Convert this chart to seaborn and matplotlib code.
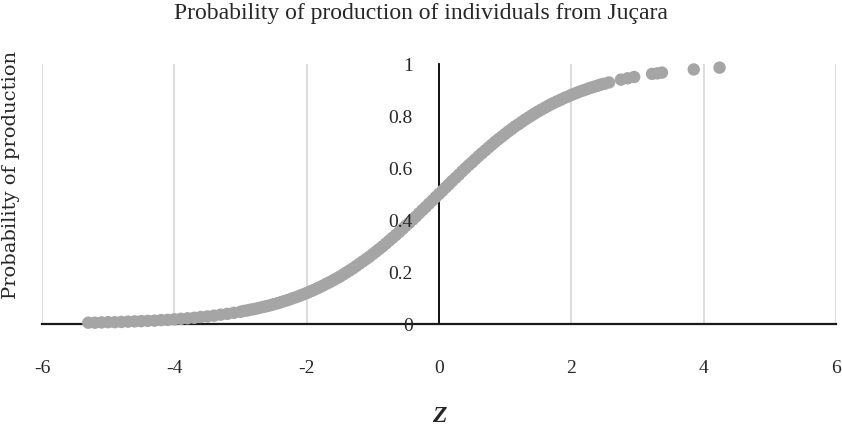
import pandas as pd
import matplotlib
matplotlib.use("Agg")
import matplotlib.pyplot as plt
import seaborn as sns

# Z scores: flat lower tail, dense middle, sparse upper tail
z_values = [
    -5.3, -5.2, -5.1, -5.0, -4.9, -4.8, -4.7, -4.6, -4.5, -4.4,
    -4.3, -4.2, -4.1, -4.0, -3.9, -3.8, -3.7, -3.6, -3.5, -3.4,
    -3.3, -3.2, -3.1,
    -3.0, -2.95, -2.9, -2.85, -2.8, -2.75, -2.7, -2.65, -2.6, -2.55,
    -2.5, -2.45, -2.4, -2.35, -2.3, -2.25, -2.2, -2.15, -2.1, -2.05,
    -2.0, -1.95, -1.9, -1.85, -1.8, -1.75, -1.7, -1.65, -1.6, -1.55,
    -1.5, -1.45, -1.4, -1.35, -1.3, -1.25, -1.2, -1.15, -1.1, -1.05,
    -1.0, -0.95, -0.9, -0.85, -0.8, -0.75, -0.7, -0.65, -0.6, -0.55,
    -0.5, -0.45, -0.4, -0.35, -0.3, -0.25, -0.2, -0.15, -0.1, -0.05,
    0.0, 0.05, 0.1, 0.15, 0.2, 0.25, 0.3, 0.35, 0.4, 0.45,
    0.5, 0.55, 0.6, 0.65, 0.7, 0.75, 0.8, 0.85, 0.9, 0.95,
    1.0, 1.05, 1.1, 1.15, 1.2, 1.25, 1.3, 1.35, 1.4, 1.45,
    1.5, 1.55, 1.6, 1.65, 1.7, 1.75, 1.8, 1.85, 1.9, 1.95,
    2.0, 2.05, 2.1, 2.15, 2.2, 2.25, 2.3, 2.35, 2.4, 2.45,
    2.5, 2.57, 2.75, 2.85, 2.95, 3.22, 3.30, 3.37, 3.85, 4.24,
]

# probability of production for each point
prob_values = [
    0.005, 0.005, 0.006, 0.007, 0.007, 0.008, 0.009, 0.010, 0.011, 0.012,
    0.013, 0.015, 0.016, 0.018, 0.020, 0.022, 0.024, 0.027, 0.029, 0.032,
    0.036, 0.039, 0.043,
    0.047, 0.050, 0.052, 0.055, 0.057, 0.060, 0.063, 0.066, 0.069, 0.072,
    0.076, 0.079, 0.083, 0.087, 0.091, 0.095, 0.100, 0.104, 0.109, 0.114,
    0.119, 0.125, 0.130, 0.136, 0.142, 0.148, 0.155, 0.161, 0.168, 0.175,
    0.182, 0.190, 0.198, 0.206, 0.214, 0.223, 0.232, 0.241, 0.250, 0.259,
    0.269, 0.279, 0.289, 0.299, 0.310, 0.321, 0.332, 0.343, 0.354, 0.366,
    0.378, 0.389, 0.401, 0.413, 0.426, 0.438, 0.450, 0.463, 0.475, 0.488,
    0.500, 0.512, 0.525, 0.537, 0.550, 0.562, 0.574, 0.587, 0.599, 0.611,
    0.622, 0.634, 0.646, 0.657, 0.668, 0.679, 0.690, 0.701, 0.711, 0.721,
    0.731, 0.741, 0.750, 0.760, 0.768, 0.777, 0.786, 0.794, 0.802, 0.810,
    0.818, 0.825, 0.832, 0.839, 0.846, 0.852, 0.858, 0.864, 0.870, 0.875,
    0.881, 0.886, 0.891, 0.896, 0.900, 0.905, 0.909, 0.913, 0.917, 0.921,
    0.924, 0.929, 0.940, 0.945, 0.950, 0.962, 0.964, 0.967, 0.979, 0.986,
]

x_ticks = [-6, -4, -2, 0, 2, 4, 6]
y_ticks = [0, 0.2, 0.4, 0.6, 0.8, 1]
y_tick_labels = ["0", "0.2", "0.4", "0.6", "0.8", "1"]

df = pd.DataFrame({"z": z_values, "prob": prob_values})

sns.set_style("white")
plt.rcParams["font.family"] = ["Liberation Serif", "DejaVu Serif"]
plt.rcParams["axes.unicode_minus"] = False

fig = plt.figure(figsize=(8.42, 4.27), dpi=100)
ax = fig.add_axes([42 / 842, 102 / 427, 794 / 842, 260 / 427])

sns.scatterplot(data=df, x="z", y="prob", ax=ax, color="#a5a5a5",
                s=80, edgecolor="none", linewidth=0, clip_on=False, zorder=3)

ax.set_xlim(-6, 6)
ax.set_ylim(0, 1)
ax.set_xticks(x_ticks)
ax.set_yticks(y_ticks)
ax.set_yticklabels(y_tick_labels)

# vertical grid only
ax.grid(axis="x", color="#d9d9d9", linewidth=1.3)
ax.grid(axis="y", visible=False)

# y axis crosses at z = 0, drawn under the points
ax.spines["left"].set_position(("data", 0))
ax.spines["left"].set_color("black")
ax.spines["left"].set_linewidth(1.3)
ax.spines["left"].set_zorder(2)
ax.spines["bottom"].set_color("#1a1a1a")
ax.spines["bottom"].set_linewidth(1.6)
ax.spines["bottom"].set_zorder(2)
ax.spines["top"].set_visible(False)
ax.spines["right"].set_visible(False)
# y tick labels sit on top of the curve
ax.yaxis.set_zorder(4)

ax.tick_params(axis="x", length=0, pad=25, labelsize=14)
ax.tick_params(axis="y", length=0, pad=19, labelsize=14)

ax.set_xlabel("Z", fontsize=17, fontstyle="italic", fontweight="bold")
ax.xaxis.set_label_coords(0.5, -0.31)
ax.set_ylabel("Probability of production", fontsize=14,
              fontfamily="DejaVu Serif")
ax.yaxis.set_label_coords(-0.028, 0.577)

fig.text(0.5, 1 - 13 / 427, "Probability of production of individuals from Juçara",
         ha="center", va="center", fontsize=17)

fig.savefig("out.png", dpi=100)
